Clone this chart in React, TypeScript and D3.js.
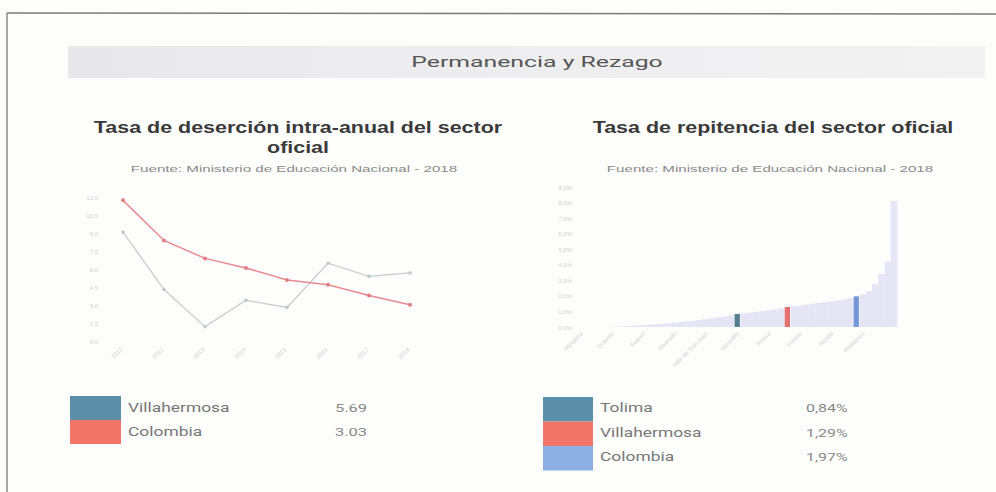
import React from "react";
import * as d3 from "d3";

// ---------- Data ----------
const years = ["2011", "2012", "2013", "2014", "2015", "2016", "2017", "2018"];
const villahermosaDesercion = [9.1, 4.3, 1.2, 3.4, 2.8, 6.5, 5.4, 5.69];
const colombiaDesercion = [11.75, 8.4, 6.9, 6.1, 5.1, 4.7, 3.8, 3.03];
const desercionTicks = [0, 1.5, 3, 4.5, 6, 7.5, 9, 10.5, 12];

const leftLegendNames = ["Villahermosa", "Colombia"];
const leftLegendValues = ["5.69", "3.03"];

const municipios = [
  "Alpujarra", "Murillo", "Casabianca", "Herveo", "Falan", "Dolores", "Prado", "Cunday",
  "Coello", "Icononzo", "Suárez", "Ambalema", "Palocabildo", "Piedras", "Villarrica", "Alvarado",
  "Roncesvalles", "Santa Isabel", "Anzoátegui", "San Luis", "Valle de San Juan", "Armero", "Lérida",
  "Tolima",
  "Ortega", "Venadillo", "Coyaima", "Natagaima", "Saldaña", "Guamo", "Rovira",
  "Villahermosa",
  "San Antonio", "Ataco", "Purificación", "Fresno", "Flandes", "Mariquita", "Líbano", "Melgar", "Honda", "Espinal",
  "Colombia",
  "Cajamarca", "Carmen de Apicalá", "Rioblanco", "Planadas", "Chaparral", "Ibagué",
];
const repitencia = [
  0, 0, 0, 0.02, 0.03, 0.05, 0.07, 0.1,
  0.12, 0.15, 0.18, 0.2, 0.24, 0.28, 0.32, 0.36,
  0.4, 0.45, 0.5, 0.56, 0.62, 0.68, 0.75,
  0.84,
  0.88, 0.93, 0.98, 1.03, 1.08, 1.13, 1.2,
  1.29,
  1.33, 1.38, 1.44, 1.5, 1.55, 1.6, 1.65, 1.7, 1.76, 1.85,
  1.97,
  2.1, 2.3, 2.75, 3.4, 4.2, 8.1,
];
const repitenciaTicks = [0, 1, 2, 3, 4, 5, 6, 7, 8, 9];

const rightLegendNames = ["Tolima", "Villahermosa", "Colombia"];
const rightLegendValues = ["0,84%", "1,29%", "1,97%"];

const highlightColors: Record<string, string> = {
  Tolima: "#557f90",
  Villahermosa: "#e4716f",
  Colombia: "#7597d6",
};
const leftSwatch = ["#5b8fa9", "#f17568"];
const rightSwatch = ["#5b8fa9", "#f17568", "#8cb0e4"];

const FONT = "'Liberation Sans', Arial, sans-serif";
const LEG_FONT = "Roboto, sans-serif";

type STProps = {
  x: number;
  y: number;
  sx: number;
  anchor?: "start" | "middle" | "end";
  size: number;
  fill: string;
  weight?: string;
  family?: string;
  children: React.ReactNode;
};
function StretchText({ x, y, sx, anchor = "start", size, fill, weight, family, children }: STProps) {
  return (
    <text
      transform={`translate(${x},${y}) scale(${sx},1)`}
      textAnchor={anchor}
      fontSize={size}
      fill={fill}
      fontWeight={weight}
      fontFamily={family}
    >
      {children}
    </text>
  );
}

export default function App() {
  const xL = d3.scalePoint<string>().domain(years).range([123, 410]);
  const yL = d3.scaleLinear().domain([0, 13.2]).range([341, 183]);
  const line = d3
    .line<number>()
    .x((_, i) => xL(years[i]) as number)
    .y((d) => yL(d));

  const xR = d3.scaleBand<string>().domain(municipios).range([590, 897]).padding(0);
  const yR = d3.scaleLinear().domain([0, 9]).range([327, 187]);
  const comma = (v: number) => d3.format(".1f")(v).replace(".", ",");

  return (
    <svg
      width={996}
      height={492}
      style={{ position: "absolute", left: 0, top: 0, background: "#fff" }}
      fontFamily={FONT}
    >
      <defs>
        <linearGradient id="band" x1="0" x2="1" y1="0" y2="0">
          <stop offset="0" stopColor="#e8e8ea" />
          <stop offset="0.5" stopColor="#eeeef0" />
          <stop offset="1" stopColor="#f2f2f3" />
        </linearGradient>
      </defs>
      <rect x={0} y={0} width={996} height={492} fill="#fdfdfc" />
      <line x1={7} y1={13} x2={996} y2={14} stroke="#7a7a7a" strokeWidth={1.5} />
      <line x1={7} y1={13} x2={7} y2={492} stroke="#8a8a8a" strokeWidth={1.5} />

      <rect x={68} y={46} width={917} height={32} fill="url(#band)" />
      <StretchText x={537} y={67} sx={1.6} anchor="middle" size={15.5} fill="#555" family={LEG_FONT}>
        Permanencia y Rezago
      </StretchText>

      {/* Left titles */}
      <StretchText x={298} y={133} sx={1.3} anchor="middle" size={16.5} weight="bold" fill="#3a3a3a">
        Tasa de deserción intra-anual del sector
      </StretchText>
      <StretchText x={298} y={153} sx={1.3} anchor="middle" size={16.5} weight="bold" fill="#3a3a3a">
        oficial
      </StretchText>
      <StretchText x={294} y={172} sx={1.72} anchor="middle" size={8.8} fill="#8a8a8a">
        Fuente: Ministerio de Educación Nacional - 2018
      </StretchText>

      {desercionTicks.map((t) => (
        <text key={t} x={98} y={yL(t) + 2.5} textAnchor="end" fontSize={6} fill="#d0d0d0">
          {comma(t)}
        </text>
      ))}
      {years.map((yr) => (
        <text
          key={yr}
          transform={`translate(${xL(yr)},${350}) rotate(-45)`}
          textAnchor="end"
          fontSize={6}
          fill="#cfcfcf"
        >
          {yr}
        </text>
      ))}

      <path d={line(villahermosaDesercion) || ""} fill="none" stroke="#c6cfcd" strokeWidth={1.3} />
      {villahermosaDesercion.map((v, i) => (
        <circle key={"v" + i} cx={xL(years[i])} cy={yL(v)} r={1.8} fill="#bfc9c8" />
      ))}
      <path d={line(colombiaDesercion) || ""} fill="none" stroke="#e88a92" strokeWidth={1.5} />
      {colombiaDesercion.map((v, i) => (
        <circle key={"c" + i} cx={xL(years[i])} cy={yL(v)} r={2} fill="#e07e88" />
      ))}

      {leftLegendNames.map((n, i) => (
        <g key={n}>
          <rect x={70} y={396 + i * 24} width={51} height={24} fill={leftSwatch[i]} />
          <StretchText x={128} y={412 + i * 24} sx={1.45} size={12} fill="#777" family={LEG_FONT}>
            {n}
          </StretchText>
          <StretchText x={351} y={412 + i * 24} sx={1.5} anchor="middle" size={11} fill="#888" family={LEG_FONT}>
            {leftLegendValues[i]}
          </StretchText>
        </g>
      ))}

      {/* Right titles */}
      <StretchText x={773} y={133} sx={1.3} anchor="middle" size={16.5} weight="bold" fill="#3a3a3a">
        Tasa de repitencia del sector oficial
      </StretchText>
      <StretchText x={770} y={172} sx={1.72} anchor="middle" size={8.8} fill="#8a8a8a">
        Fuente: Ministerio de Educación Nacional - 2018
      </StretchText>

      {repitenciaTicks.map((t) => (
        <text key={t} x={572} y={yR(t) + 2.5} textAnchor="end" fontSize={6} fill="#d0d0d0">
          {t},0%
        </text>
      ))}

      {municipios.map((m, i) => {
        const hl = highlightColors[m];
        const x = xR(m) as number;
        const w = xR.bandwidth();
        return (
          <rect
            key={m}
            x={hl ? x + 0.5 : x}
            y={yR(repitencia[i])}
            width={hl ? w - 1 : w + 0.3}
            height={yR(0) - yR(repitencia[i])}
            fill={hl || "#e5e5f6"}
          />
        );
      })}
      {municipios.map((m, i) =>
        i % 5 === 0 ? (
          <text
            key={"l" + m}
            transform={`translate(${(xR(m) as number) + xR.bandwidth() / 2 - 10},${334}) rotate(-45)`}
            textAnchor="end"
            fontSize={6}
            fill="#d2d2d2"
          >
            {m}
          </text>
        ) : null
      )}

      {rightLegendNames.map((n, i) => (
        <g key={n}>
          <rect x={543} y={397 + i * 24.5} width={50} height={24.5} fill={rightSwatch[i]} />
          <StretchText x={600} y={412 + i * 24.5} sx={1.45} size={12} fill="#777" family={LEG_FONT}>
            {n}
          </StretchText>
          <StretchText x={806} y={412 + i * 24.5} sx={1.45} size={11} fill="#888" family={LEG_FONT}>
            {rightLegendValues[i]}
          </StretchText>
        </g>
      ))}
    </svg>
  );
}
